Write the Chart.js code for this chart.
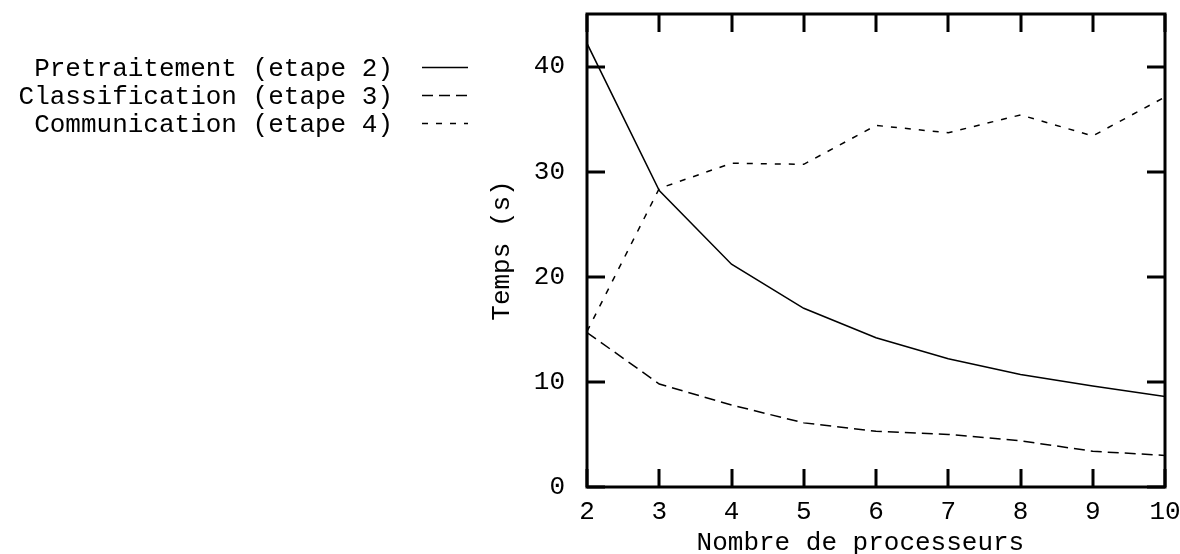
<!DOCTYPE html>
<html>
<head>
<meta charset="utf-8">
<script src="https://cdn.jsdelivr.net/npm/chart.js@4"></script>
<style>
  html, body { margin: 0; padding: 0; background: #fff; }
  canvas { display: block; }
</style>
</head>
<body>
<canvas id="chart" width="1180" height="554"></canvas>
<script>
// data
const procs = [2, 3, 4, 5, 6, 7, 8, 9, 10];
const pretraitement = [42.2, 28.2, 21.2, 17.0, 14.2, 12.2, 10.7, 9.6, 8.6];
const classification = [14.7, 9.8, 7.8, 6.1, 5.3, 5.0, 4.4, 3.4, 3.0];
const communication = [14.8, 28.4, 30.8, 30.7, 34.4, 33.7, 35.4, 33.4, 37.1];
const yTicks = [0, 10, 20, 30, 40];
const seriesNames = ['Pretraitement (etape 2)', 'Classification (etape 3)', 'Communication (etape 4)'];
const dashes = [[], [11, 6], [6, 8]];

const FONT = "'Liberation Mono', 'Courier New', monospace";
const FSIZE = 26;

function points(ys) {
  return procs.map((x, i) => ({ x: x, y: ys[i] }));
}

// gnuplot-like frame with inward ticks on all four sides
const framePlugin = {
  id: 'frame',
  afterDraw(chart) {
    const ctx = chart.ctx;
    const a = chart.chartArea;
    const xs = chart.scales.x, ys = chart.scales.y;
    const tl = 18;
    ctx.save();
    ctx.strokeStyle = '#000';
    ctx.lineWidth = 3;
    ctx.strokeRect(a.left, a.top, a.right - a.left, a.bottom - a.top);
    ctx.beginPath();
    yTicks.forEach(v => {
      const y = Math.round(ys.getPixelForValue(v));
      ctx.moveTo(a.left, y); ctx.lineTo(a.left + tl, y);
      ctx.moveTo(a.right, y); ctx.lineTo(a.right - tl, y);
    });
    procs.forEach(v => {
      const x = Math.round(xs.getPixelForValue(v));
      ctx.moveTo(x, a.bottom); ctx.lineTo(x, a.bottom - tl);
      ctx.moveTo(x, a.top); ctx.lineTo(x, a.top + tl);
    });
    ctx.stroke();

    // legend on the left: text then line sample
    ctx.font = FSIZE + 'px ' + FONT;
    ctx.fillStyle = '#000';
    ctx.textAlign = 'right';
    ctx.textBaseline = 'alphabetic';
    const baselines = [76, 104, 132];
    ctx.lineWidth = 1.5;
    seriesNames.forEach((name, i) => {
      ctx.fillText(name, 393, baselines[i]);
      ctx.beginPath();
      ctx.setLineDash(dashes[i]);
      ctx.moveTo(422, baselines[i] - 8.5);
      ctx.lineTo(468, baselines[i] - 8.5);
      ctx.stroke();
    });
    ctx.restore();
  }
};

new Chart(document.getElementById('chart'), {
  type: 'line',
  data: {
    datasets: [
      { label: seriesNames[0], data: points(pretraitement), borderColor: '#000', borderWidth: 1.5, borderDash: dashes[0], pointRadius: 0, fill: false },
      { label: seriesNames[1], data: points(classification), borderColor: '#000', borderWidth: 1.5, borderDash: dashes[1], pointRadius: 0, fill: false },
      { label: seriesNames[2], data: points(communication), borderColor: '#000', borderWidth: 1.5, borderDash: dashes[2], pointRadius: 0, fill: false }
    ]
  },
  options: {
    responsive: false,
    animation: false,
    layout: { padding: { left: 487, top: 14, right: 15, bottom: 0 } },
    plugins: {
      legend: { display: false },
      tooltip: { enabled: false }
    },
    scales: {
      x: {
        type: 'linear',
        min: 2,
        max: 10,
        afterFit: scale => { scale.height = 67; scale.paddingLeft = 0; scale.paddingRight = 0; },
        grid: { display: false, drawTicks: false },
        border: { display: false },
        ticks: { stepSize: 1, color: '#000', padding: 10, maxRotation: 0, font: { family: FONT, size: FSIZE } },
        // trailing spaces nudge the centred title left like in the original
        title: { display: true, text: 'Nombre de processeurs  ', color: '#000', padding: 0, font: { family: FONT, size: FSIZE, lineHeight: 0.8 } }
      },
      y: {
        min: 0,
        max: 45,
        afterBuildTicks: scale => { scale.ticks = yTicks.map(v => ({ value: v })); },
        afterFit: scale => { scale.width = 100; scale.paddingTop = 0; scale.paddingBottom = 0; },
        grid: { display: false, drawTicks: false },
        border: { display: false },
        ticks: { color: '#000', padding: 22, font: { family: FONT, size: FSIZE } },
        title: { display: true, text: 'Temps (s)', color: '#000', padding: 0, font: { family: FONT, size: FSIZE } }
      }
    }
  },
  plugins: [framePlugin]
});
</script>
</body>
</html>
